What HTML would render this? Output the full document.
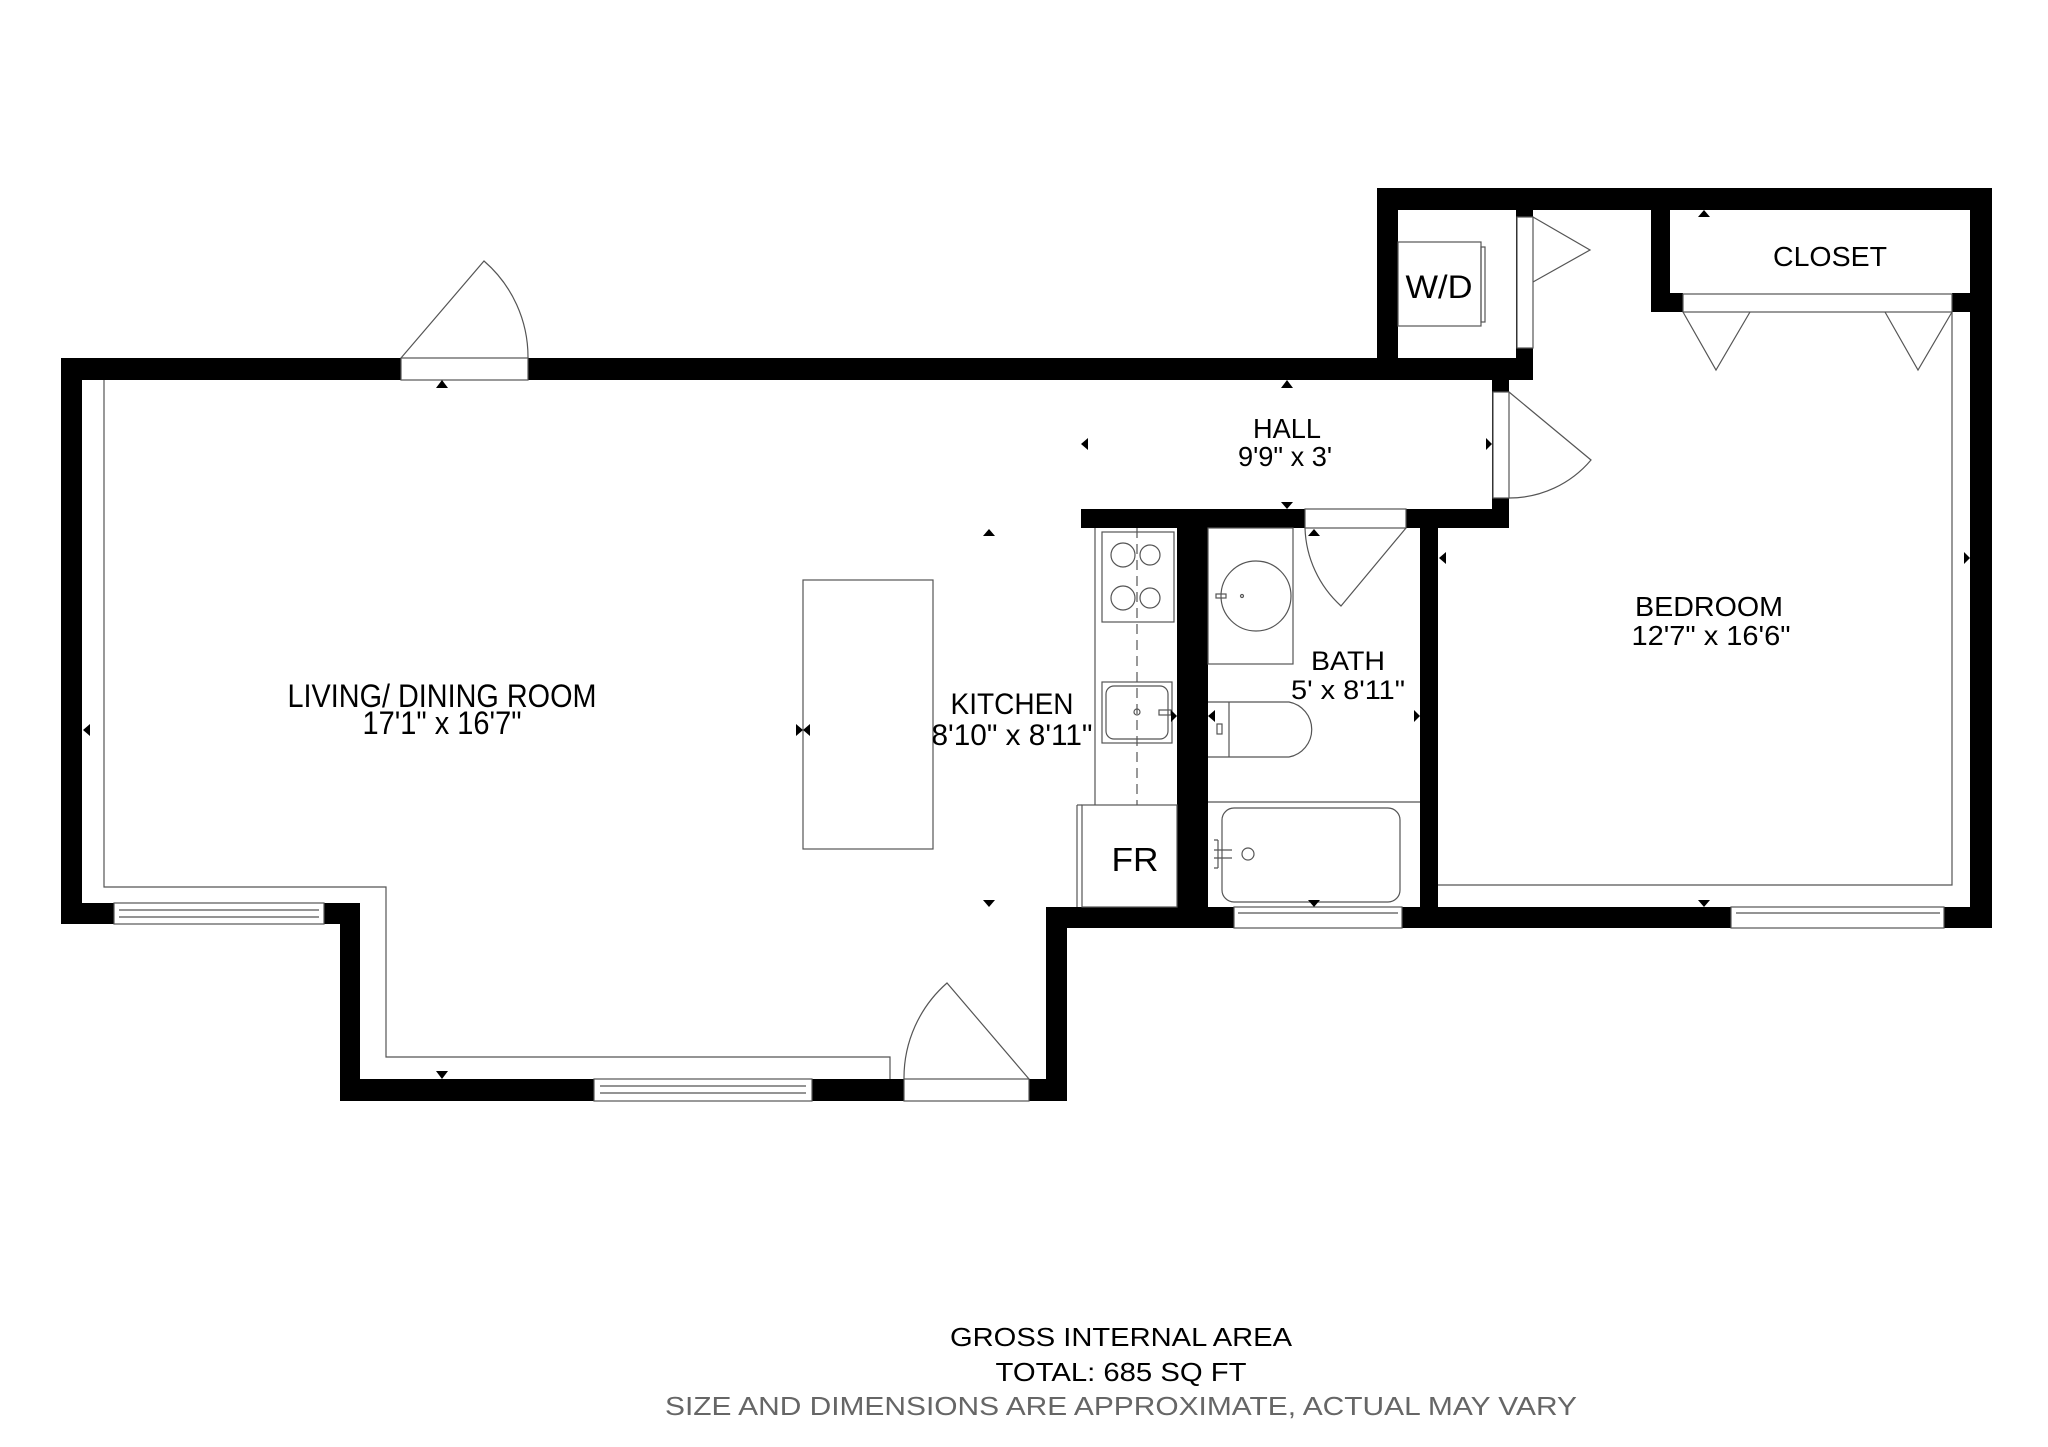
<!DOCTYPE html>
<html><head><meta charset="utf-8"><style>
html,body{margin:0;padding:0;background:#fff;}
svg{display:block;}
text{font-family:"Liberation Sans",Arial,sans-serif;}
</style></head><body>
<svg width="2048" height="1447" viewBox="0 0 2048 1447" xmlns="http://www.w3.org/2000/svg">
<rect width="2048" height="1447" fill="#fff"/>
<g fill="#000">
<!-- living top wall -->
<rect x="61" y="358" width="1472" height="22"/>
<!-- left wall -->
<rect x="61" y="358" width="21" height="566"/>
<!-- bottom-left stub -->
<rect x="61" y="903" width="299" height="21"/>
<!-- step wall -->
<rect x="340" y="903" width="20" height="198"/>
<!-- living bottom wall -->
<rect x="340" y="1079" width="727" height="22"/>
<!-- right stub -->
<rect x="1046" y="907" width="21" height="194"/>
<!-- bottom wall right part -->
<rect x="1046" y="907" width="946" height="21"/>
<!-- W/D left wall -->
<rect x="1377" y="188" width="21" height="192"/>
<!-- top wall -->
<rect x="1377" y="188" width="615" height="22"/>
<!-- right outer wall -->
<rect x="1970" y="188" width="22" height="740"/>
<!-- W/D right wall -->
<rect x="1516" y="205" width="17" height="175"/>
<!-- hall right wall -->
<rect x="1492" y="375" width="17" height="153"/>
<!-- hall bottom wall -->
<rect x="1081" y="509" width="428" height="19"/>
<!-- kitchen/bath wall -->
<rect x="1177" y="509" width="31" height="419"/>
<!-- bath/bedroom wall -->
<rect x="1420" y="509" width="18" height="419"/>
<!-- closet walls -->
<rect x="1651" y="188" width="19" height="124"/>
<rect x="1651" y="293" width="32" height="19"/>
<rect x="1952" y="293" width="40" height="19"/>
</g>
<g fill="#fff" stroke="#555" stroke-width="1.2">
<!-- door gaps -->
<rect x="401" y="358" width="127" height="22"/>
<rect x="904" y="1079" width="125" height="22"/>
<rect x="1517" y="217" width="16" height="131"/>
<rect x="1493" y="392" width="16" height="106"/>
<rect x="1305" y="509" width="101" height="19"/>
<rect x="1683" y="294" width="269" height="18"/>
<!-- windows -->
<rect x="114" y="903" width="210" height="21"/>
<rect x="594" y="1079" width="218" height="22"/>
<rect x="1234" y="907" width="168" height="21"/>
<rect x="1731" y="907" width="213" height="21"/>
</g>
<g stroke="#555" stroke-width="1.2" fill="none">
<line x1="119" y1="910" x2="319" y2="910"/><line x1="119" y1="917" x2="319" y2="917"/>
<line x1="600" y1="1086" x2="806" y2="1086"/><line x1="600" y1="1093" x2="806" y2="1093"/>
<line x1="1238" y1="913" x2="1398" y2="913"/>
<line x1="1736" y1="913" x2="1940" y2="913"/>
<!-- doors -->
<path d="M401,358 L484,261 A127,127 0 0 1 528,358"/>
<path d="M1029,1079 L947,983 A126,126 0 0 0 904,1079"/>
<path d="M1533,217 L1590,250 L1533,282"/>
<path d="M1509,392 L1591,460 A107,107 0 0 1 1509,498"/>
<path d="M1406,528 L1341,606 A110,110 0 0 1 1305,528"/>
<path d="M1683,312 L1716,370 L1750,312"/>
<path d="M1885,312 L1918,370 L1952,312"/>
<!-- inner lines -->
<polyline points="104,380 104,887 386,887 386,1057 890,1057 890,1079"/>
<polyline points="1952,312 1952,885 1438,885"/>
<!-- island -->
<rect x="803" y="580" width="130" height="269"/>
<!-- kitchen -->
<line x1="1095" y1="528" x2="1095" y2="805"/>
<rect x="1102" y="532" width="72" height="90"/>
<circle cx="1123" cy="555" r="12"/><circle cx="1150" cy="555" r="10"/>
<circle cx="1123" cy="598" r="12"/><circle cx="1150" cy="598" r="10"/>
<line x1="1137" y1="528" x2="1137" y2="805" stroke-dasharray="10,6"/>
<rect x="1102" y="682" width="70" height="61"/>
<rect x="1106" y="686" width="62" height="53" rx="8"/>
<circle cx="1137" cy="712" r="3"/>
<rect x="1159" y="710" width="12" height="5"/>
<rect x="1082" y="805" width="95" height="102"/>
<line x1="1077" y1="805" x2="1082" y2="805"/>
<line x1="1077" y1="805" x2="1077" y2="907"/>
<!-- bath -->
<rect x="1208" y="528" width="85" height="136"/>
<circle cx="1256" cy="596" r="35"/>
<circle cx="1242" cy="596" r="1.5"/>
<rect x="1216" y="594" width="10" height="4"/>
<path d="M1208,702 L1289,702 A28,28 0 0 1 1289,757 L1208,757"/>
<line x1="1229" y1="702" x2="1229" y2="757"/>
<rect x="1217" y="724" width="5" height="10"/>
<line x1="1208" y1="802" x2="1420" y2="802"/>
<rect x="1222" y="808" width="178" height="94" rx="12"/>
<circle cx="1248" cy="854" r="6"/>
<path d="M1214,850 L1232,850 M1214,858 L1232,858 M1218,840 L1218,868 M1214,840 L1218,840 M1214,868 L1218,868"/>
<!-- W/D -->
<rect x="1398" y="242" width="83" height="84"/>
<rect x="1481" y="247" width="4" height="75"/>
</g>
<!-- markers -->
<g fill="#000">
<path d="M436,388 L448,388 L442,380 Z"/>
<path d="M90,724 L90,736 L83,730 Z"/>
<path d="M436,1071 L448,1071 L442,1079 Z"/>
<path d="M796,724 L796,736 L803,730 Z"/>
<path d="M810,724 L810,736 L803,730 Z"/>
<path d="M983,536 L995,536 L989,529 Z"/>
<path d="M983,900 L995,900 L989,907 Z"/>
<path d="M1088,438 L1088,450 L1081,444 Z"/>
<path d="M1281,388 L1293,388 L1287,380 Z"/>
<path d="M1486,438 L1486,450 L1492,444 Z"/>
<path d="M1281,502 L1293,502 L1287,509 Z"/>
<path d="M1308,536 L1320,536 L1314,529 Z"/>
<path d="M1446,552 L1446,564 L1439,558 Z"/>
<path d="M1964,552 L1964,564 L1970,558 Z"/>
<path d="M1414,710 L1414,722 L1420,716 Z"/>
<path d="M1215,710 L1215,722 L1208,716 Z"/>
<path d="M1171,710 L1171,722 L1177,716 Z"/>
<path d="M1308,900 L1320,900 L1314,907 Z"/>
<path d="M1698,900 L1710,900 L1704,907 Z"/>
<path d="M1698,217 L1710,217 L1704,210 Z"/>
</g>
<!-- labels -->
<g fill="#000" text-anchor="middle">
<text x="442" y="707" font-size="32" textLength="309" lengthAdjust="spacingAndGlyphs">LIVING/ DINING ROOM</text>
<text x="442" y="734" font-size="32" textLength="159" lengthAdjust="spacingAndGlyphs">17'1" x 16'7"</text>
<text x="1012" y="714" font-size="30" textLength="123" lengthAdjust="spacingAndGlyphs">KITCHEN</text>
<text x="1012" y="745" font-size="30" textLength="161" lengthAdjust="spacingAndGlyphs">8'10" x 8'11"</text>
<text x="1287" y="438" font-size="28" textLength="68" lengthAdjust="spacingAndGlyphs">HALL</text>
<text x="1285" y="466" font-size="28" textLength="94" lengthAdjust="spacingAndGlyphs">9'9" x 3'</text>
<text x="1348" y="670" font-size="27" textLength="74" lengthAdjust="spacingAndGlyphs">BATH</text>
<text x="1348" y="699" font-size="27" textLength="114" lengthAdjust="spacingAndGlyphs">5' x 8'11"</text>
<text x="1709" y="616" font-size="28" textLength="148" lengthAdjust="spacingAndGlyphs">BEDROOM</text>
<text x="1711" y="645" font-size="28" textLength="159" lengthAdjust="spacingAndGlyphs">12'7" x 16'6"</text>
<text x="1830" y="266" font-size="28" textLength="114" lengthAdjust="spacingAndGlyphs">CLOSET</text>
<text x="1439" y="298" font-size="32" textLength="67" lengthAdjust="spacingAndGlyphs">W/D</text>
<text x="1135" y="871" font-size="33" textLength="47" lengthAdjust="spacingAndGlyphs">FR</text>
<text x="1121" y="1346" font-size="26" textLength="342" lengthAdjust="spacingAndGlyphs">GROSS INTERNAL AREA</text>
<text x="1121" y="1381" font-size="26" textLength="251" lengthAdjust="spacingAndGlyphs">TOTAL: 685 SQ FT</text>
<text x="1121" y="1415" font-size="26" fill="#666" textLength="912" lengthAdjust="spacingAndGlyphs">SIZE AND DIMENSIONS ARE APPROXIMATE, ACTUAL MAY VARY</text>
</g>
</svg>
</body></html>
